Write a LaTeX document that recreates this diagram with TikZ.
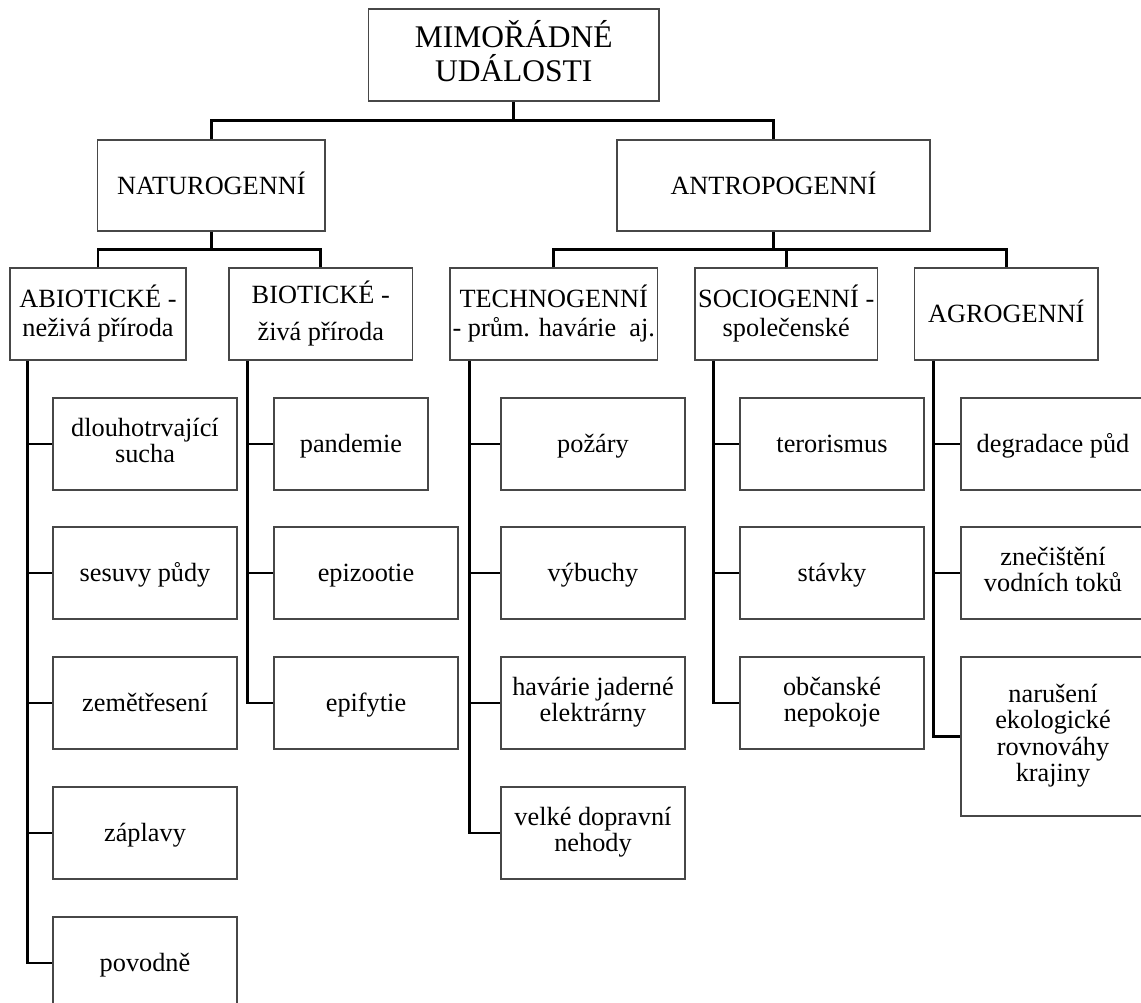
\documentclass[tikz,border=0pt]{standalone}
\usepackage{fontspec}
\setmainfont{Liberation Serif}
\usetikzlibrary{calc}
\newcommand{\hstrut}{\rule{0pt}{0.95em}}
\newcommand{\dstrut}{\rule[-0.27em]{0pt}{0.27em}}
\begin{document}
\begin{tikzpicture}[x=1pt,y=-1pt,
  box/.style={draw=black!72, line width=1.1pt, inner sep=0pt, align=center,
    font=\fontsize{26.3}{26.5}\selectfont, minimum height=92pt,
    execute at begin node=\hstrut, execute at end node=\dstrut},
  headbox/.style={box, font=\fontsize{26.3}{29}\selectfont},
  topbox/.style={box, font=\fontsize{31.5}{34}\selectfont},
  conn/.style={line width=2.7pt, black, line join=miter}]
\useasboundingbox (0,0) rectangle (1141,1003);
\clip (0,0) rectangle (1141,1003);
\fill[white] (0,0) rectangle (1141,1003);
% level 1
\node[topbox, minimum width=290.5pt] (top) at (513.75,55) {MIMOŘÁDNÉ\\UDÁLOSTI};
% level 2
\node[headbox, minimum width=227.4pt, minimum height=91pt] (natu) at (211.3,185.5) {NATUROGENNÍ};
\node[headbox, minimum width=313pt, minimum height=91pt] (antro) at (773.5,185.5) {ANTROPOGENNÍ};
% level 3
\node[headbox, minimum width=176pt] (abio) at (98,314) {ABIOTICKÉ -\\neživá příroda};
\node[headbox, minimum width=183.5pt] (bio) at (320.75,314) {BIOTICKÉ -\\[8pt]živá příroda};
\node[headbox, minimum width=207.5pt] (techno) at (553.75,314) {TECHNOGENNÍ\\- prům. havárie~~aj.};
\node[headbox, minimum width=182.5pt] (socio) at (786.25,314) {SOCIOGENNÍ -\\společenské};
\node[headbox, minimum width=183.3pt] (agro) at (1006.35,314) {AGROGENNÍ};
% abiotic children
\node[box, minimum width=184pt] (a1) at (145,444) {dlouhotrvající\\sucha};
\node[box, minimum width=184pt] (a2) at (145,573) {sesuvy půdy};
\node[box, minimum width=184pt] (a3) at (145,703) {zemětřesení};
\node[box, minimum width=184pt] (a4) at (145,833) {záplavy};
\node[box, minimum width=184pt] (a5) at (145,963) {povodně};
% biotic children
\node[box, minimum width=154pt] (b1) at (351,444) {pandemie};
\node[box, minimum width=184pt] (b2) at (366,573) {epizootie};
\node[box, minimum width=184pt] (b3) at (366,703) {epifytie};
% technogenic children
\node[box, minimum width=184pt] (t1) at (593,444) {požáry};
\node[box, minimum width=184pt] (t2) at (593,573) {výbuchy};
\node[box, minimum width=184pt] (t3) at (593,703) {havárie jaderné\\elektrárny};
\node[box, minimum width=184pt] (t4) at (593,833) {velké dopravní\\nehody};
% sociogenic children
\node[box, minimum width=184pt] (s1) at (832,444) {terorismus};
\node[box, minimum width=184pt] (s2) at (832,573) {stávky};
\node[box, minimum width=184pt] (s3) at (832,703) {občanské\\nepokoje};
% agrogenic children
\node[box, minimum width=184pt] (g1) at (1053,444) {degradace půd};
\node[box, minimum width=184pt] (g2) at (1053,573) {znečištění\\vodních toků};
\node[box, minimum width=184pt, minimum height=159pt] (g3) at (1053,736.5) {narušení\\ekologické\\rovnováhy\\krajiny};
% connectors level 1 -> 2
\coordinate (j0) at ($(top.south)+(0,19)$);
\draw[conn] (top.south) -- (j0);
\draw[conn] (natu.north) |- (j0) -| (antro.north);
% level 2 -> 3
\coordinate (j1) at ($(natu.south)+(0,18)$);
\draw[conn] (natu.south) -- (j1);
\draw[conn] (abio.north) |- (j1) -| (bio.north);
\coordinate (j2) at ($(antro.south)+(0,18)$);
\draw[conn] (antro.south) -- (j2);
\draw[conn] (techno.north) |- (j2) -| (agro.north);
\draw[conn] (socio.north) -- (socio.north |- j2);
% trunks
\coordinate (ta) at ($(abio.south west)+(18,0)$);
\draw[conn] (ta) |- (a5.west);
\foreach \n in {a1,a2,a3,a4} \draw[conn] (ta |- \n.west) -- (\n.west);
\coordinate (tb) at ($(bio.south west)+(19,0)$);
\draw[conn] (tb) |- (b3.west);
\foreach \n in {b1,b2} \draw[conn] (tb |- \n.west) -- (\n.west);
\coordinate (tt) at ($(techno.south west)+(20,0)$);
\draw[conn] (tt) |- (t4.west);
\foreach \n in {t1,t2,t3} \draw[conn] (tt |- \n.west) -- (\n.west);
\coordinate (ts) at ($(socio.south west)+(19,0)$);
\draw[conn] (ts) |- (s3.west);
\foreach \n in {s1,s2} \draw[conn] (ts |- \n.west) -- (\n.west);
\coordinate (tg) at ($(agro.south west)+(19,0)$);
\draw[conn] (tg) |- (g3.west);
\foreach \n in {g1,g2} \draw[conn] (tg |- \n.west) -- (\n.west);
\end{tikzpicture}
\end{document}
